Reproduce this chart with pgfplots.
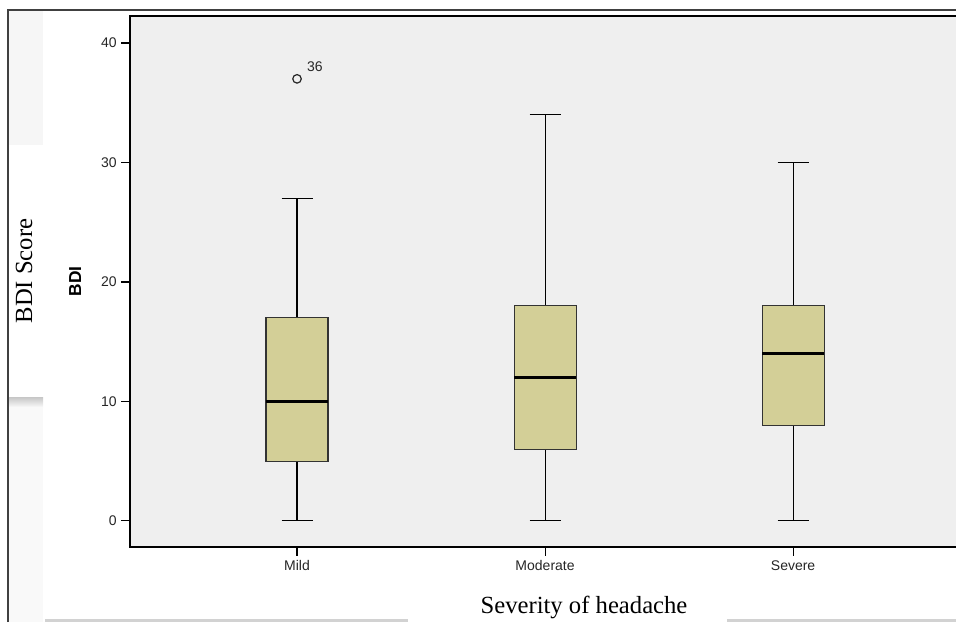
\documentclass[border=0pt]{standalone}
\usepackage{pgfplots}
\pgfplotsset{compat=1.18}
\usepgfplotslibrary{statistics}
\usepackage{fontspec}
\setmainfont{Liberation Serif}
\setsansfont{Liberation Sans}
\definecolor{boxfill}{RGB}{211,207,151}
\definecolor{plotbg}{RGB}{239,239,239}
\begin{document}
\begin{tikzpicture}[x=0.75pt,y=0.75pt]
\useasboundingbox (0,0) rectangle (956,622);
% decorative page regions
\fill[gray!7] (9,477) rectangle (43,612);
\shade[top color=gray!45,bottom color=gray!5] (9,225) rectangle (43,215);
\fill[gray!5] (9,0) rectangle (43,215);
\fill[gray!35] (45,0) rectangle (408,3);
\fill[gray!35] (727,0) rectangle (956,3);
\draw[black!75,line width=0.8pt] (8,0) -- (8,612) -- (960,612);
\begin{axis}[
  at={(97.5pt,56.25pt)}, anchor=south west,
  width=622.5pt, height=398.25pt, scale only axis,
  xmin=0.3266, xmax=3.673, ymin=-2.18, ymax=42.26,
  axis background/.style={fill=plotbg},
  axis line style={black, line width=0.8pt},
  xtick={1,2,3}, xticklabels={Mild,Moderate,Severe},
  ytick={0,10,20,30,40},
  tick style={black, line width=0.8pt},
  major tick length=6.5pt,
  tick align=outside, xtick pos=bottom, ytick pos=left,
  tick label style={font=\sffamily\fontsize{10.5}{12}\selectfont, text=black!85},
  /pgf/number format/assume math mode=true,
  ylabel={BDI},
  ylabel style={font=\sffamily\bfseries\fontsize{13}{15}\selectfont, at={(axis description cs:-0.066,0.5)}, anchor=center},
  boxplot/draw direction=y,
  boxplot/every median/.style={black, line width=2.2pt},
  boxplot/every whisker/.style={black, line width=0.8pt},
  boxplot/every box/.style={draw=black!80, line width=0.8pt, fill=boxfill},
  clip=false,
]
\addplot+[no marks, black, boxplot prepared={lower whisker=0, lower quartile=5, median=10, upper quartile=17, upper whisker=27, draw position=1, box extend=0.25, whisker extend=0.125}] coordinates {};
\addplot+[no marks, black, boxplot prepared={lower whisker=0, lower quartile=6, median=12, upper quartile=18, upper whisker=34, draw position=2, box extend=0.25, whisker extend=0.125}] coordinates {};
\addplot+[no marks, black, boxplot prepared={lower whisker=0, lower quartile=8, median=14, upper quartile=18, upper whisker=30, draw position=3, box extend=0.25, whisker extend=0.125}] coordinates {};
\addplot[only marks, mark=o, mark size=3.2pt, black!85, line width=0.9pt] coordinates {(1,37)};
\node[font=\sffamily\fontsize{10.5}{12}\selectfont, text=black!85, anchor=south west, inner sep=0pt] at (axis cs:1.04,37.6) {36};
\end{axis}
\node[rotate=90, font=\fontsize{18.5}{20}\selectfont] at (24,351) {BDI Score};
\node[font=\fontsize{18.5}{20}\selectfont] at (584,15) {Severity of headache};
\end{tikzpicture}
\end{document}
